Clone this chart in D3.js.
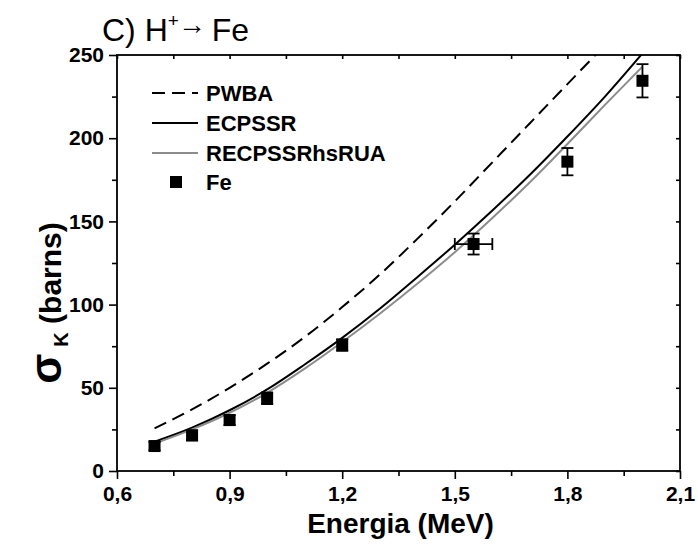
<!DOCTYPE html>
<html><head><meta charset="utf-8">
<script src="https://cdn.jsdelivr.net/npm/d3@7"></script>
<style>
body{margin:0;background:#fff}
svg{display:block}
text{font-family:"Liberation Sans",Arial,Helvetica,sans-serif}
</style>
</head><body>
<svg id="chart" width="698" height="547"></svg>
<script>
// ---- data ----
const modelEnergy = [0.7,0.8,0.9,1.0,1.1,1.2,1.3,1.4,1.5,1.6,1.7,1.8,1.9,2.0];
const pwba    = [25.6,37,50,64.5,80.5,98.5,118,139.5,162,185.5,209,232.5,256,280];
const ecpssr  = [17.6,26,36.5,49,64,80,97.5,116.5,136,156.5,178,201,225,251];
const recpssr = [16.5,25,35,47,61.5,77.5,94.5,112.5,131.5,152,173.5,196.5,220,243];
const expEnergy = [0.7,0.8,0.9,1.0,1.2,1.55,1.8,2.0];
const expSigma  = [15.0,21.4,30.6,43.7,75.7,136.4,185.9,234.5];
const expErrY   = [2.5,3,3,3.5,3.5,6.3,8.2,10];
const expErrX   = [0,0,0,0,0,0.05,0,0];
const xTicks = [0.6,0.9,1.2,1.5,1.8,2.1];
const xMinor = [0.75,1.05,1.35,1.65,1.95];
const yTicks = [0,50,100,150,200,250];
const yMinor = [25,75,125,175,225];
const legendLabels = ["PWBA","ECPSSR","RECPSSRhsRUA","Fe"];

// ---- layout ----
const svg = d3.select("#chart");
const L = 117, R = 680, T = 55, B = 471;
const x = d3.scaleLinear().domain([0.6,2.1]).range([L,R]);
const y = d3.scaleLinear().domain([0,250]).range([B,T]);
const fmt = d => d3.format(".1f")(d).replace(".", ",");

svg.append("defs").append("clipPath").attr("id","clip")
  .append("rect").attr("x",L).attr("y",T).attr("width",R-L).attr("height",B-T);

// axes
function styleAxis(g){ g.selectAll("path,line").attr("stroke","#000").attr("stroke-width",1.6); g.select(".domain").remove(); }
const gx = svg.append("g").attr("transform",`translate(0,${B})`)
  .call(d3.axisBottom(x).tickValues(xTicks).tickSize(8).tickPadding(7).tickFormat(fmt));
gx.call(styleAxis);
gx.selectAll("text").attr("font-size",21).attr("font-weight","bold").attr("fill","#000");
svg.append("g").attr("transform",`translate(0,${B})`)
  .call(d3.axisBottom(x).tickValues(xMinor).tickSize(5).tickFormat("")).call(styleAxis);
const gy = svg.append("g").attr("transform",`translate(${L},0)`)
  .call(d3.axisLeft(y).tickValues(yTicks).tickSize(8).tickPadding(5).tickFormat(d3.format("d")));
gy.call(styleAxis);
gy.selectAll("text").attr("font-size",21).attr("font-weight","bold").attr("fill","#000");
svg.append("g").attr("transform",`translate(${L},0)`)
  .call(d3.axisLeft(y).tickValues(yMinor).tickSize(5).tickFormat("")).call(styleAxis);
// top & right inward ticks
svg.append("g").attr("transform",`translate(0,${T})`)
  .call(d3.axisBottom(x).tickValues(xTicks.concat(xMinor)).tickSize(4).tickFormat("")).call(styleAxis);
svg.append("g").attr("transform",`translate(${R},0)`)
  .call(d3.axisLeft(y).tickValues(yTicks.concat(yMinor)).tickSize(4).tickFormat("")).call(styleAxis);
// frame
svg.append("rect").attr("x",L).attr("y",T).attr("width",R-L).attr("height",B-T)
  .attr("fill","none").attr("stroke","#000").attr("stroke-width",1.8);

// curves
const line = d3.line().curve(d3.curveMonotoneX);
const plot = svg.append("g").attr("clip-path","url(#clip)");
function drawCurve(vals, color, dash){
  plot.append("path")
    .attr("d", line(modelEnergy.map((e,i)=>[x(e), y(vals[i])])))
    .attr("fill","none").attr("stroke",color).attr("stroke-width",2)
    .attr("stroke-dasharray", dash || null);
}
drawCurve(pwba,"#000","13,7");
drawCurve(ecpssr,"#000");
drawCurve(recpssr,"#8c8c8c");

// experimental points
const pts = svg.append("g");
expEnergy.forEach((e,i)=>{
  const cx = x(e), cy = y(expSigma[i]);
  const y1 = y(expSigma[i]+expErrY[i]), y2 = y(expSigma[i]-expErrY[i]);
  const g = pts.append("g").attr("stroke","#000").attr("stroke-width",1.8);
  g.append("line").attr("x1",cx).attr("x2",cx).attr("y1",y1).attr("y2",y2);
  g.append("line").attr("x1",cx-6).attr("x2",cx+6).attr("y1",y1).attr("y2",y1);
  g.append("line").attr("x1",cx-6).attr("x2",cx+6).attr("y1",y2).attr("y2",y2);
  if (expErrX[i] > 0) {
    const x1 = x(e-expErrX[i]), x2 = x(e+expErrX[i]);
    g.append("line").attr("x1",x1).attr("x2",x2).attr("y1",cy).attr("y2",cy);
    g.append("line").attr("x1",x1).attr("x2",x1).attr("y1",cy-6).attr("y2",cy+6);
    g.append("line").attr("x1",x2).attr("x2",x2).attr("y1",cy-6).attr("y2",cy+6);
  }
  pts.append("rect").attr("x",cx-6).attr("y",cy-6).attr("width",12).attr("height",12).attr("fill","#000");
});

// legend
const legY = [93,123,153,182];
const lg = svg.append("g");
[["#000","13,7"],["#000",null],["#8c8c8c",null]].forEach((s,i)=>{
  lg.append("line").attr("x1",152).attr("x2",198).attr("y1",legY[i]).attr("y2",legY[i])
    .attr("stroke",s[0]).attr("stroke-width",2).attr("stroke-dasharray",s[1]);
});
lg.append("rect").attr("x",170).attr("y",legY[3]-6).attr("width",12).attr("height",12).attr("fill","#000");
legendLabels.forEach((t,i)=>{
  lg.append("text").attr("x",206).attr("y",legY[i]).attr("dy","0.35em")
    .attr("font-size",22).attr("font-weight","bold").text(t);
});

// axis titles
svg.append("text").attr("x",(L+R)/2+2).attr("y",533).attr("text-anchor","middle")
  .attr("font-size",28).attr("font-weight","bold").text("Energia (MeV)");
const yt = svg.append("text").attr("transform","translate(61,303) rotate(-90)")
  .attr("text-anchor","middle").attr("font-weight","bold").attr("font-size",30);
yt.append("tspan").attr("font-size",44).text("σ");
yt.append("tspan").attr("font-size",20).attr("dy",7).attr("dx",7).text("K");
yt.append("tspan").attr("dy",-7).text(" (barns)");

// title
const tt = svg.append("text").attr("x",102).attr("y",41).attr("font-size",32);
tt.append("tspan").text("C) H");
tt.append("tspan").attr("font-size",19).attr("dy",-14).text("+");
tt.append("tspan").attr("font-size",28).attr("dy",7).attr("dx",-1).text("→");
tt.append("tspan").attr("dy",7).attr("dx",-3).text(" Fe");
</script>
</body></html>
